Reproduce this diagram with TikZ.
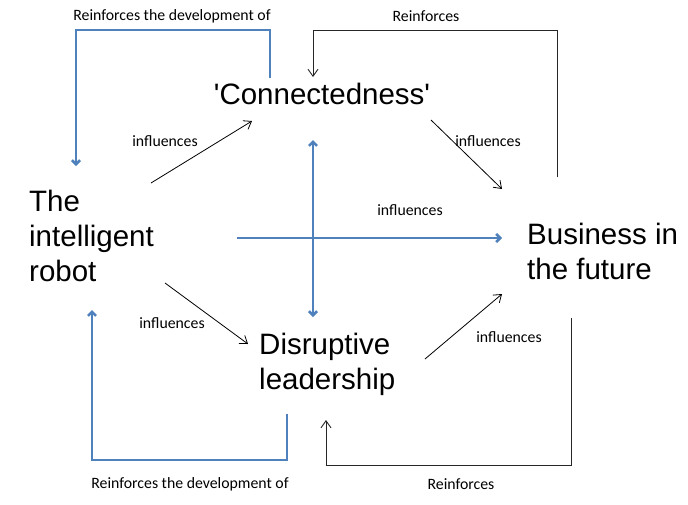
\documentclass[tikz,border=0pt]{standalone}
\usepackage{fontspec}
\setmainfont{Liberation Sans}
\newfontfamily\smallfont{Carlito}
\usetikzlibrary{arrows.meta}
\definecolor{loopblue}{HTML}{4F81BD}
\begin{document}
\begin{tikzpicture}[x=1pt,y=-1pt,
  bigtext/.style={font=\fontsize{29.5}{35}\selectfont, inner sep=0pt, align=left},
  lbl/.style={font=\smallfont\fontsize{15.8}{18}\selectfont, inner sep=0pt},
  thin arrow/.style={draw=black, line width=0.8pt, -{Straight Barb[length=7pt,width=10pt]}},
  thin line/.style={draw=black!85, line width=0.9pt},
  blue arrow/.style={draw=loopblue, line width=2.6pt, -{Straight Barb[length=4pt,width=8pt]}},
  blue both/.style={draw=loopblue, line width=2.6pt, {Straight Barb[length=4pt,width=8pt]}-{Straight Barb[length=4pt,width=8pt]}}]
\useasboundingbox (0,0) rectangle (688,504);
\fill[white] (0,0) rectangle (688,504);

% main concepts
\node[bigtext, anchor=center] (conn) at (322,94) {\textquotesingle Connectedness\textquotesingle};
\node[bigtext, anchor=west] (robot) at (29,236) {The\\intelligent\\robot};
\node[bigtext, anchor=west] (biz) at (527,251) {Business in\\the future};
\node[bigtext, anchor=west] (lead) at (259,364) {Disruptive\\leadership};

% end points of the connectors
\coordinate (r1s) at (151,183); \coordinate (r1e) at (252,121);
\coordinate (c1s) at (431,120); \coordinate (c1e) at (502,189);
\coordinate (r2s) at (165,283); \coordinate (r2e) at (248,344);
\coordinate (l1s) at (425,359); \coordinate (l1e) at (502,294);
\coordinate (hs) at (237,238);  \coordinate (he) at (502,238);
\coordinate (vs) at (313,140);  \coordinate (ve) at (313,317);
\coordinate (tls) at (270,78);  \coordinate (tle) at (76,166);
\coordinate (trs) at (557,177); \coordinate (tre) at (313,77);
\coordinate (bls) at (287,414); \coordinate (ble) at (92,310);
\coordinate (brs) at (571,318); \coordinate (bre) at (326,420);

% influence arrows
\draw[thin arrow] (r1s) -- (r1e);
\draw[thin arrow] (c1s) -- (c1e);
\draw[thin arrow] (r2s) -- (r2e);
\draw[thin arrow] (l1s) -- (l1e);
\node[lbl] (i1) at (165,141) {influences};
\node[lbl] (i2) at (488,141) {influences};
\node[lbl] (i3) at (172,323) {influences};
\node[lbl] (i4) at (509,337) {influences};
\node[lbl] (i5) at (410,210) {influences};

% central cross
\draw[blue arrow] (hs) -- (he);
\draw[blue both] (vs) -- (ve);

% reinforcing loops
\draw[blue arrow] (tls) -- (tls |- 0,30) -- (tle |- 0,30) -- (tle);
\node[lbl] (t1) at (172,16) {Reinforces the development of};
\draw[thin line, -{Straight Barb[length=7pt,width=10pt]}] (trs) -- (trs |- 0,30) -- (tre |- 0,30) -- (tre);
\node[lbl] (t2) at (426,16) {Reinforces};
\draw[blue arrow] (bls) -- (bls |- 0,460) -- (ble |- 0,460) -- (ble);
\node[lbl] (b1) at (190,484) {Reinforces the development of};
\draw[thin line, -{Straight Barb[length=7pt,width=10pt]}] (brs) -- (brs |- 0,465) -- (bre |- 0,465) -- (bre);
\node[lbl] (b2) at (461,484) {Reinforces};
\end{tikzpicture}
\end{document}
